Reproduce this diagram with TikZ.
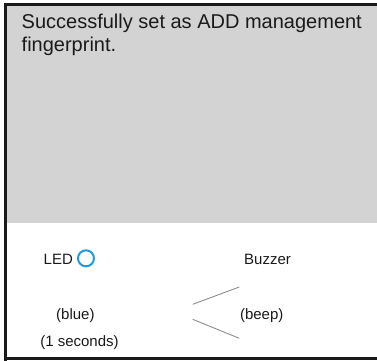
\documentclass[tikz,border=0pt]{standalone}
\usepackage{fontspec}
\setmainfont{Liberation Sans}
\definecolor{panelgray}{HTML}{D3D3D3}
\definecolor{ledblue}{HTML}{1E9BE0}
\definecolor{framecol}{HTML}{1A1A1A}
\begin{document}
\begin{tikzpicture}[x=1pt,y=-1pt,
  toptext/.style={anchor=base west,inner sep=0pt,font=\fontsize{20}{22.5}\selectfont,text=framecol},
  lbl/.style={anchor=base,inner sep=0pt,font=\fontsize{15}{17}\selectfont,text=framecol},
  beepline/.style={draw=gray!90,line width=0.9pt}]
\useasboundingbox (0,0) rectangle (377,360);
\begin{scope}
\clip (0,0) rectangle (377,360);
\fill[panelgray] (5.5,5) rectangle (380,222.5);
\draw[framecol,line width=3pt] (5.5,380) -- (5.5,4.5) -- (380,4.5);
\draw[framecol,line width=3pt] (4,358.7) -- (380,358.7);
\end{scope}
\node[toptext] (t1) at (21.5,28.5) {Successfully set as ADD management};
\node[toptext] (t2) at (21.5,51) {fingerprint.};
\node[lbl] (led) at (58.3,264) {LED};
\node[draw=ledblue,line width=2pt,circle,minimum size=16pt,inner sep=0pt] (ledc) at (86,258.3) {};
\node[lbl] (buzzer) at (267.5,264) {Buzzer};
\node[lbl] (blue) at (75.4,319) {(blue)};
\node[lbl] (secs) at (79.5,346) {(1 seconds)};
\node[lbl] (beep) at (261.7,319) {(beep)};
\coordinate (a1) at (192.7,304.3);
\coordinate (a2) at (239.3,287);
\coordinate (b1) at (192.7,319.3);
\coordinate (b2) at (239.3,338.3);
\draw[beepline] (a1) -- (a2);
\draw[beepline] (b1) -- (b2);
\end{tikzpicture}
\end{document}
